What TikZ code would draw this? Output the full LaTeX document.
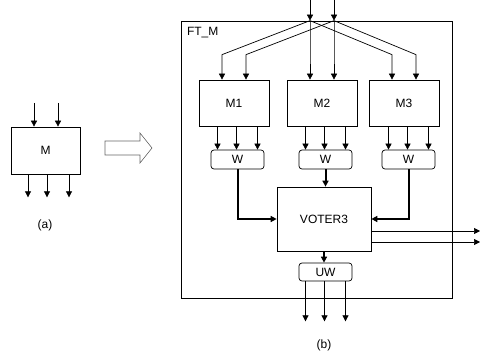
\documentclass[tikz,border=0pt]{standalone}
\usepackage{fontspec}
\setsansfont{Liberation Sans}
\usetikzlibrary{arrows.meta}

\begin{document}
\begin{tikzpicture}[x=1pt,y=-1pt,>={Triangle[length=6pt,width=6pt]},line width=0.7pt,
    box/.style={draw,inner sep=0pt,font=\sffamily\fontsize{12}{14}\selectfont},
    block/.style={box,minimum width=70pt,minimum height=46pt},
    wrap/.style={box,rounded corners=3pt,minimum width=53pt,minimum height=19pt},
    label node/.style={inner sep=0pt,font=\sffamily\fontsize{12}{14}\selectfont},
    bus/.style={->,line width=2pt}]
    \useasboundingbox (0,0) rectangle (481,352);

    % (a) the plain module
    \node[box,minimum width=69pt,minimum height=47pt] (m) at (45.5,150.5) {M};
    \coordinate (ma) at (34,103);
    \coordinate (mb) at (58,103);
    \draw[->] (ma) -- (ma |- m.north);
    \draw[->] (mb) -- (mb |- m.north);
    \foreach \d in {-17.5,1.5,23.5}
        \draw[->] ([xshift=\d pt]m.south) -- ++(0,23);
    \node[label node] (la) at (45,225) {(a)};

    % hollow arrow
    \draw[draw=gray!80!black,line width=0.6pt] (105,141) -- (140,141) -- (140,133) -- (152,148)
        -- (140,163) -- (140,155) -- (105,155) -- cycle;

    % (b) the fault tolerant module
    \node[draw,minimum width=271pt,minimum height=277pt] (ft) at (316.5,159.5) {};
    \node[label node,anchor=west] (ftl) at ([xshift=6pt,yshift=-12pt]ft.north west) {FT\_M};

    \node[block] (m1) at (234,103) {M1};
    \node[block] (m2) at (322,103) {M2};
    \node[block] (m3) at (404,103) {M3};

    \node[wrap] (w1) at (237.5,159.5) {W};
    \node[wrap] (w2) at (325.5,159.5) {W};
    \node[wrap] (w3) at (408.5,159.5) {W};

    \node[box,minimum width=94pt,minimum height=64pt] (v) at (324,219) {VOTER3};
    \node[wrap,minimum height=18pt] (uw) at (325.5,272) {UW};

    % inputs
    \coordinate (ia) at (310,0);
    \coordinate (ib) at (334,0);
    \coordinate (ja) at (ia |- ft.north);
    \coordinate (jb) at (ib |- ft.north);
    \draw[->] (ia) -- (ja);
    \draw[->] (ib) -- (jb);
    \foreach \n in {m1,m2,m3} {
        \draw[->] (ja) -- ([xshift=-12pt,yshift=25pt]\n.north) -- ([xshift=-12pt]\n.north);
        \draw[->] (jb) -- ([xshift=12pt,yshift=25pt]\n.north) -- ([xshift=12pt]\n.north);
    }

    % modules to wrappers
    \foreach \i in {1,2,3}
        \foreach \d in {-20,-1,20}
            \draw[->] ([xshift=\d pt]w\i.north |- m\i.south) -- ([xshift=\d pt]w\i.north);

    % wrappers to voter
    \draw[bus] (w1.south) |- (v.west);
    \draw[bus] (w3.south) |- (v.east);
    \draw[bus] (w2.south) -- (w2.south |- v.north);
    \draw[bus] (v.south) -- (v.south |- uw.north);

    % outputs
    \coordinate (oa) at (480,231);
    \coordinate (ob) at (480,242);
    \draw[->] (v.east |- oa) -- (oa);
    \draw[->] (v.east |- ob) -- (ob);
    \foreach \d in {-20,-1,20}
        \draw[->] ([xshift=\d pt]uw.south) -- ++(0,40);

    \node[label node] (lb) at (324,345) {(b)};
\end{tikzpicture}
\end{document}
